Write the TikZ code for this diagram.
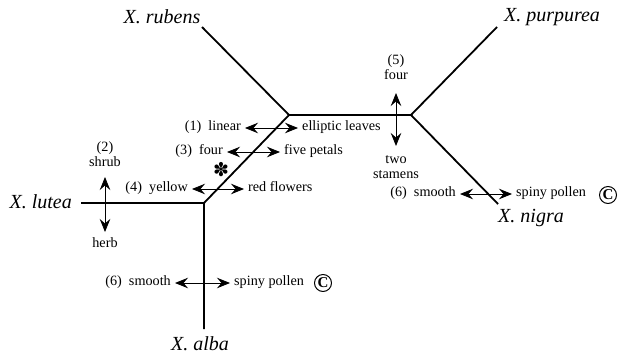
\documentclass[tikz,border=0pt]{standalone}
\usepackage{fontspec}
\setmainfont{Liberation Serif}
\newfontfamily\symfont{DejaVu Sans}
\usetikzlibrary{arrows.meta}
\begin{document}
\begin{tikzpicture}[x=1pt,y=-1pt,line join=round,>={Stealth[length=13pt,width=10.5pt,inset=4.5pt]},
every node/.style={inner sep=0pt,font=\fontsize{14.2}{15}\selectfont},
sp/.style={font=\fontsize{20}{22}\selectfont\itshape},
ch/.style={text height=1.6ex,text depth=.3ex,inner xsep=4pt},
cc/.style={draw,circle,line width=1pt,minimum size=17pt,font=\fontsize{15}{15}\selectfont\bfseries}]
\useasboundingbox (0,0) rectangle (620,356);
% tree
\coordinate (A) at (204,203);
\coordinate (B) at (289,115);
\coordinate (C) at (411,115);
\coordinate (lu) at (81,203);
\coordinate (al) at (204,329);
\coordinate (ru) at (202,27);
\coordinate (pu) at (497,27);
\coordinate (ni) at (498,204);
\draw[line width=1.8pt] (lu)--(A)--(al) (A)--(B)--(ru) (B)--(C)--(pu) (C)--(ni);
\node[sp,anchor=east] (Lutea) at (72,202) {X. lutea};
\node[sp] (Alba) at (200,344) {X. alba};
\node[sp] (Rubens) at (162,17) {X. rubens};
\node[sp] (Purpurea) at (552,17) {X. purpurea};
\node[sp] (Nigra) at (531,218) {X. nigra};
% characters
\foreach \n/\y/\a/\b/\l/\r in {1/128/245/298/linear/elliptic leaves, 3/152/227/280/four/five petals,
  4/189/192/244/yellow/red flowers, 6/283/175/230/smooth/spiny pollen}{
\node[ch,anchor=east] (l\n) at (\a,\y) {(\n)\ \ \l};
\node[ch,anchor=west] (r\n) at (\b,\y) {\r};
\draw[<->,line width=.9pt] (l\n.east)--(r\n.west);
}
\node[ch,anchor=east] (l7) at (460,194) {(6)\ \ smooth};
\node[ch,anchor=west] (r7) at (512,194) {spiny pollen};
\draw[<->,line width=.9pt] (l7.east)--(r7.west);
\node[cc] (c6) at (323,283) {C};
\node[cc] (c7) at (608,195) {C};
\node[align=center,anchor=south] (t2) at (105,167) {(2)\\shrub};
\node[anchor=north] (b2) at (105,237) {herb};
\draw[<->,line width=.9pt,shorten <=10pt,shorten >=5pt] (t2.south)--(b2.north);
\node[align=center,anchor=south] (t5) at (396,80) {(5)\\four};
\node[align=center,anchor=north] (b5) at (396,155) {two\\stamens};
\draw[<->,line width=.9pt,shorten <=13pt,shorten >=9pt] (t5.south)--(b5.north);
\node[font=\symfont\fontsize{19}{19}\selectfont] (ast) at (221,170) {✽};
\end{tikzpicture}
\end{document}
